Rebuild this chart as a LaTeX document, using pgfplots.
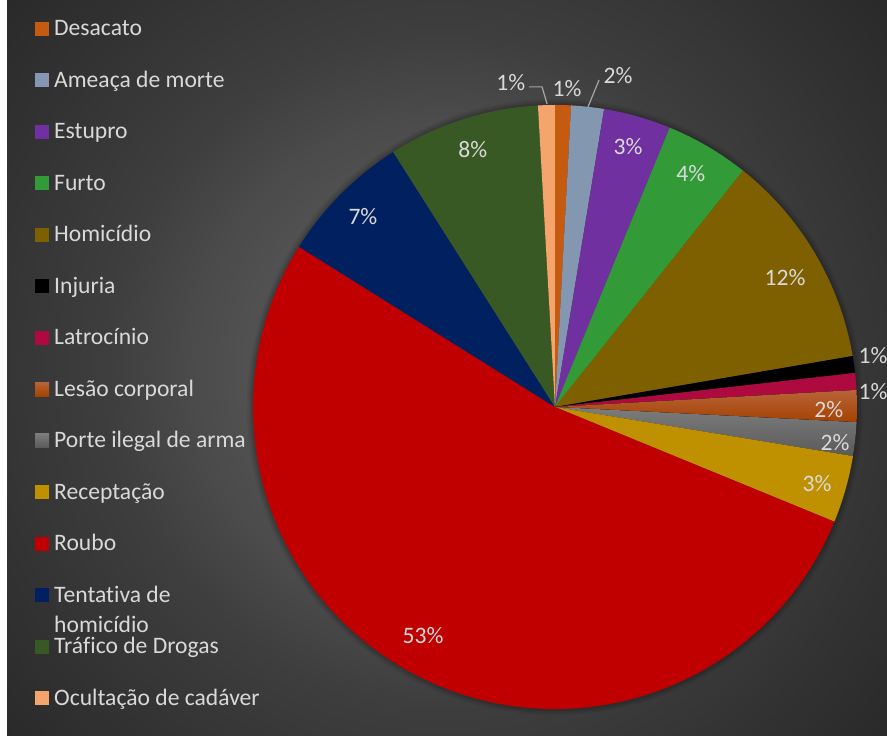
\documentclass[border=0pt]{standalone}
\usepackage{pgfplots}
\pgfplotsset{compat=1.18}
\usepackage{fontspec}
\setmainfont{Carlito}[Ligatures=NoCommon]
\definecolor{txt}{HTML}{D9D9D9}
\definecolor{lead}{HTML}{A6A6A6}
\definecolor{cDes}{HTML}{C55A11}
\definecolor{cAme}{HTML}{8497B0}
\definecolor{cEst}{HTML}{7030A0}
\definecolor{cFur}{HTML}{339A38}
\definecolor{cHom}{HTML}{7F6000}
\definecolor{cInj}{HTML}{000000}
\definecolor{cLat}{HTML}{AE0A3F}
\definecolor{cLesT}{HTML}{B8633A}
\definecolor{cLesB}{HTML}{A44200}
\definecolor{cPorT}{HTML}{7C7C7C}
\definecolor{cPorB}{HTML}{5A5A5A}
\definecolor{cRec}{HTML}{BF9000}
\definecolor{cRou}{HTML}{C00000}
\definecolor{cTen}{HTML}{002060}
\definecolor{cTra}{HTML}{395924}
\definecolor{cOcu}{HTML}{F5A46C}
\definecolor{bgA}{HTML}{565656}
\definecolor{bgB}{HTML}{4B4B4B}
\definecolor{bgC}{HTML}{3E3E3E}
\definecolor{bgD}{HTML}{333333}
\definecolor{bgE}{HTML}{2A2A2A}
\pgfdeclareradialshading{bgshade}{\pgfpoint{0bp}{0bp}}{%
  color(0bp)=(bgA); color(150bp)=(bgA); color(250bp)=(bgB); color(335bp)=(bgC);
  color(460bp)=(bgD); color(570bp)=(bgE); color(720bp)=(bgE)}
\tikzset{
  sDes/.style={fill=cDes}, sAme/.style={fill=cAme}, sEst/.style={fill=cEst},
  sFur/.style={fill=cFur}, sHom/.style={fill=cHom}, sInj/.style={fill=cInj},
  sLat/.style={fill=cLat}, sLes/.style={top color=cLesT, bottom color=cLesB},
  sPor/.style={top color=cPorT, bottom color=cPorB}, sRec/.style={fill=cRec},
  sRou/.style={fill=cRou}, sTen/.style={fill=cTen}, sTra/.style={fill=cTra},
  sOcu/.style={fill=cOcu},
  lbl/.style={text=txt, inner sep=0pt, font=\fontsize{23.6bp}{28bp}\selectfont},
}
\newcommand\cum{0}
\begin{document}
\begin{tikzpicture}
\fill[white] (0bp,0bp) rectangle (887bp,736bp);
\begin{scope}
  \clip (7bp,0bp) rectangle (887bp,736bp);
  \node[inner sep=0pt] at (443bp,368bp) {\pgfuseshading{bgshade}};
\end{scope}
\begin{axis}[
  at={(0bp,0bp)}, anchor=south west,
  x=302bp, y=302bp,
  xmin=-1.8377, xmax=1.0993, ymin=-1.0894, ymax=1.3477,
  hide axis, clip=false,
]
% soft shadow around the pie
\foreach \r/\o in {308/0.06,306/0.08,304/0.10} {
  \edef\temp{\noexpand\fill[black, opacity=\o] (axis cs:0,0) circle[radius=\r bp];}
  \temp
}
% value (percent) / style / label / label x / label y
\foreach \v/\s/\l/\lx/\ly in {
  0.85/sDes/1/0.040/1.056,
  1.75/sAme/2/0.209/1.099,
  3.6/sEst/3/0.242/0.861,
  4.5/sFur/4/0.450/0.772,
  11.6/sHom/12/0.762/0.427,
  0.9/sInj/1/1.053/0.169,
  0.9/sLat/1/1.053/0.050,
  1.7/sLes/2/0.907/-0.010,
  1.8/sPor/2/0.927/-0.119,
  3.6/sRec/3/0.868/-0.255,
  52.7/sRou/53/-0.437/-0.758,
  7.1/sTen/7/-0.636/0.629,
  8.1/sTra/8/-0.272/0.854,
  0.9/sOcu/1/-0.146/1.073} {
  \pgfmathsetmacro\aone{90-3.6*\cum}
  \pgfmathsetmacro\atwo{90-3.6*(\cum+\v)}
  \pgfmathsetmacro\newcum{\cum+\v}
  \global\let\cum\newcum
  \edef\temp{\noexpand\fill[\s] (axis cs:0,0) -- (axis cs:{cos(\aone)},{sin(\aone)})
     arc[start angle=\aone, end angle=\atwo, radius=302bp] -- cycle;
     \noexpand\node[lbl] at (axis cs:\lx,\ly) {\l\noexpand\%};}
  \temp
}
% leader lines
\draw[lead, line width=1.2bp] (axis cs:-0.086,1.060) -- (axis cs:-0.043,1.060) -- (axis cs:-0.026,1.003);
\draw[lead, line width=1.2bp] (axis cs:0.146,1.083) -- (axis cs:0.109,0.993);
\end{axis}
% legend
\foreach \s/\t/\u [count=\i from 0] in {
  sDes/Desacato/, sAme/Ameaça de morte/, sEst/Estupro/, sFur/Furto/,
  sHom/Homicídio/, sInj/Injuria/, sLat/Latrocínio/, sLes/Lesão corporal/,
  sPor/Porte ilegal de arma/, sRec/Receptação/, sRou/Roubo/,
  sTen/Tentativa de/homicídio, sTra/Tráfico de Drogas/, sOcu/Ocultação de cadáver/} {
  \pgfmathsetmacro\yb{736-35.7-51.5*\i}
  \pgfmathsetmacro\yt{\yb+14}
  \pgfmathsetmacro\yc{\yb-30}
  \fill[\s] (35bp,\yb bp) rectangle (49bp,\yt bp);
  \node[lbl, anchor=base west] at (54bp,\yb bp) {\t};
  \node[lbl, anchor=base west] at (54bp,\yc bp) {\u};
}
\pgfresetboundingbox
\path[use as bounding box] (0bp,0bp) rectangle (887bp,736bp);
\end{tikzpicture}
\end{document}
